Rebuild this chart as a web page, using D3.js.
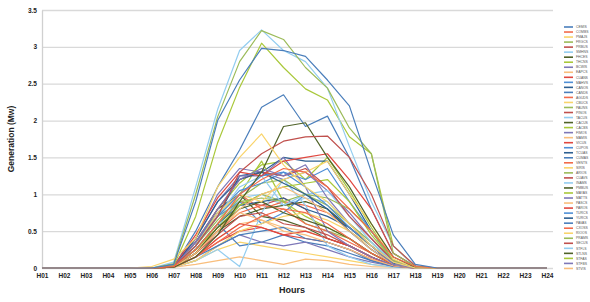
<!DOCTYPE html>
<html>
<head>
<meta charset="utf-8">
<script src="https://d3js.org/d3.v7.min.js"></script>
<style>
    body { margin: 0; background: #fff; }
    text { font-family: "Liberation Sans", Arial, sans-serif; }
</style>
</head>
<body>
<svg id="drawing_region"></svg>
<script>
const hours = ["H01","H02","H03","H04","H05","H06","H07","H08","H09","H10","H11","H12",
               "H13","H14","H15","H16","H17","H18","H19","H20","H21","H22","H23","H24"];

const y_ticks = [0, 0.5, 1, 1.5, 2, 2.5, 3, 3.5];

const plants = ["CEMIS","COMBS","PMAJS","FRGCS","PRBUS","SMHNS","FHCES","THCNS","BCWIS","EAPCS",
                "CUANS","MAHVS","CANOS","CANDS","AGUDS","CBUCS","PAUNS","PINOS","TACUS","CACUS",
                "CACBS","FIMOS","MAMIS","VICUS","CUPOS","TCUAS","CUMAS","VENTS","SIRIS","ARIOS",
                "CUAVS","INAMS","PMBUS","MAYAS","MATTS","PASCS","PAROS","TURCS","YURCS","PAVAS",
                "CXOSS","RIOOS","PRAMS","SECUS","STFLS","STLNS","STFAS","STFBS","STVIS"];

// generation per plant, H01..H24 (MW)
const generation = [
    [0,0,0,0,0,0,0.05,0.90,2.00,2.55,2.98,2.95,2.87,2.55,2.20,1.30,0.45,0.05,0,0,0,0,0,0],
    [0,0,0,0,0,0,0.02,0.25,0.60,1.00,1.20,1.35,1.30,1.10,0.80,0.50,0.15,0.02,0,0,0,0,0,0],
    [0,0,0,0,0,0.02,0.12,0.40,1.10,1.50,1.82,1.40,1.10,0.90,0.60,0.30,0.08,0,0,0,0,0,0,0],
    [0,0,0,0,0,0,0.06,1.00,2.05,2.80,3.22,3.10,2.72,2.44,1.90,1.55,0.20,0.02,0,0,0,0,0,0],
    [0,0,0,0,0,0,0.02,0.30,0.70,1.30,1.55,1.72,1.78,1.79,1.50,1.00,0.30,0.03,0,0,0,0,0,0],
    [0,0,0,0,0,0,0.08,1.10,2.15,2.95,3.23,2.95,2.80,2.44,1.65,0.90,0.30,0.02,0,0,0,0,0,0],
    [0,0,0,0,0,0,0.01,0.15,0.45,0.90,1.30,1.92,1.97,1.50,1.10,0.60,0.15,0.01,0,0,0,0,0,0],
    [0,0,0,0,0,0,0.03,0.70,1.70,2.45,3.05,2.72,2.43,2.28,1.78,1.55,0.30,0.02,0,0,0,0,0,0],
    [0,0,0,0,0,0,0.02,0.35,0.80,1.20,1.35,1.25,1.40,0.95,0.60,0.30,0.05,0,0,0,0,0,0,0],
    [0,0,0,0,0,0,0.01,0.20,0.50,0.80,1.00,1.10,0.95,0.75,0.50,0.25,0.05,0,0,0,0,0,0,0],
    [0,0,0,0,0,0,0.03,0.45,0.95,1.30,1.25,1.45,1.50,1.55,1.20,0.80,0.20,0.02,0,0,0,0,0,0],
    [0,0,0,0,0,0,0.02,0.30,0.70,1.00,1.25,1.30,1.10,0.85,0.55,0.30,0.08,0,0,0,0,0,0,0],
    [0,0,0,0,0,0,0.02,0.40,0.90,1.20,1.30,1.15,1.00,0.80,0.50,0.25,0.06,0,0,0,0,0,0,0],
    [0,0,0,0,0,0,0.02,0.50,1.10,1.60,2.18,2.35,1.92,2.06,1.50,0.80,0.20,0.02,0,0,0,0,0,0],
    [0,0,0,0,0,0,0.01,0.15,0.35,0.55,0.70,0.80,0.75,0.60,0.40,0.20,0.05,0,0,0,0,0,0,0],
    [0,0,0,0,0,0,0.02,0.30,0.75,1.00,0.90,1.20,1.30,1.45,1.00,0.60,0.12,0,0,0,0,0,0,0],
    [0,0,0,0,0,0,0.02,0.25,0.60,0.90,0.95,0.90,1.00,0.95,0.80,0.50,0.10,0,0,0,0,0,0,0],
    [0,0,0,0,0,0,0.03,0.35,0.80,1.20,1.30,1.25,1.35,1.10,0.70,0.40,0.10,0,0,0,0,0,0,0],
    [0,0,0,0,0,0,0.02,0.30,0.70,1.10,1.25,0.85,1.00,1.05,0.70,0.35,0.08,0,0,0,0,0,0,0],
    [0,0,0,0,0,0,0.01,0.20,0.55,0.80,0.90,0.75,0.65,0.55,0.40,0.20,0.05,0,0,0,0,0,0,0],
    [0,0,0,0,0,0,0.02,0.25,0.55,0.85,1.00,1.10,1.15,1.20,0.90,0.45,0.10,0,0,0,0,0,0,0],
    [0,0,0,0,0,0,0.02,0.40,0.90,1.25,1.25,1.50,1.10,0.50,0.30,0.15,0.04,0,0,0,0,0,0,0],
    [0,0,0,0,0,0,0.01,0.20,0.55,0.75,0.65,0.50,0.45,0.35,0.25,0.12,0.03,0,0,0,0,0,0,0],
    [0,0,0,0,0,0,0.01,0.15,0.40,0.60,0.55,0.45,0.50,0.40,0.30,0.15,0.03,0,0,0,0,0,0,0],
    [0,0,0,0,0,0,0.02,0.35,0.75,1.05,1.15,1.30,1.20,1.35,0.90,0.50,0.10,0,0,0,0,0,0,0],
    [0,0,0,0,0,0,0.01,0.25,0.60,0.85,0.90,0.95,0.80,0.70,0.55,0.30,0.06,0,0,0,0,0,0,0],
    [0,0,0,0,0,0,0.01,0.15,0.30,0.45,0.50,0.55,0.40,0.35,0.25,0.10,0.02,0,0,0,0,0,0,0],
    [0,0,0,0,0,0,0.01,0.20,0.50,0.75,0.85,0.80,0.60,0.50,0.35,0.20,0.04,0,0,0,0,0,0,0],
    [0,0,0,0,0,0,0.01,0.10,0.30,0.50,0.60,0.70,0.75,0.65,0.50,0.30,0.06,0,0,0,0,0,0,0],
    [0,0,0,0,0,0,0.02,0.30,0.65,0.95,1.15,1.20,1.00,0.85,0.60,0.35,0.08,0,0,0,0,0,0,0],
    [0,0,0,0,0,0,0.01,0.20,0.45,0.70,0.75,0.60,0.55,0.45,0.30,0.15,0.03,0,0,0,0,0,0,0],
    [0,0,0,0,0,0,0.01,0.10,0.25,0.02,0.75,1.20,0.85,0.30,0.15,0.05,0.01,0,0,0,0,0,0,0],
    [0,0,0,0,0,0,0.01,0.20,0.50,0.70,0.80,0.85,0.90,0.80,0.55,0.30,0.05,0,0,0,0,0,0,0],
    [0,0,0,0,0,0,0.02,0.30,0.70,1.00,1.45,0.90,0.70,0.55,0.40,0.20,0.04,0,0,0,0,0,0,0],
    [0,0,0,0,0,0,0.01,0.10,0.30,0.45,0.35,0.30,0.35,0.25,0.15,0.08,0.02,0,0,0,0,0,0,0],
    [0,0,0,0,0,0,0.01,0.05,0.10,0.15,0.10,0.05,0.12,0.10,0.05,0.02,0.01,0,0,0,0,0,0,0],
    [0,0,0,0,0,0,0.01,0.15,0.35,0.50,0.55,0.45,0.40,0.35,0.25,0.12,0.03,0,0,0,0,0,0,0],
    [0,0,0,0,0,0,0.02,0.35,0.70,0.90,0.60,0.75,1.00,0.80,0.50,0.25,0.05,0,0,0,0,0,0,0],
    [0,0,0,0,0,0,0.02,0.30,0.70,1.25,1.30,1.50,1.45,1.45,1.00,0.50,0.10,0,0,0,0,0,0,0],
    [0,0,0,0,0,0,0.02,0.25,0.60,0.30,0.35,0.45,0.35,0.30,0.20,0.10,0.02,0,0,0,0,0,0,0],
    [0,0,0,0,0,0,0.02,0.30,0.75,1.00,0.80,0.90,0.85,0.75,0.55,0.30,0.06,0,0,0,0,0,0,0],
    [0,0,0,0,0,0,0.01,0.10,0.25,0.35,0.30,0.25,0.20,0.15,0.10,0.05,0.01,0,0,0,0,0,0,0],
    [0,0,0,0,0,0,0.01,0.20,0.50,0.85,1.00,0.90,0.60,0.50,0.40,0.20,0.04,0,0,0,0,0,0,0],
    [0,0,0,0,0,0,0.01,0.25,0.60,0.90,0.85,0.95,0.80,0.40,0.30,0.15,0.03,0,0,0,0,0,0,0],
    [0,0,0,0,0,0,0.01,0.20,0.55,0.95,1.00,0.85,0.95,0.90,0.60,0.35,0.06,0,0,0,0,0,0,0],
    [0,0,0,0,0,0,0.02,0.35,0.80,1.00,0.70,0.65,0.55,0.40,0.30,0.15,0.03,0,0,0,0,0,0,0],
    [0,0,0,0,0,0,0.02,0.30,0.80,1.15,1.40,1.45,1.20,1.50,1.05,0.55,0.10,0,0,0,0,0,0,0],
    [0,0,0,0,0,0,0.03,0.40,1.00,1.35,1.30,1.20,1.30,1.05,0.75,0.40,0.08,0,0,0,0,0,0,0],
    [0,0,0,0,0,0,0.01,0.15,0.40,0.60,0.65,0.55,0.50,0.40,0.30,0.15,0.03,0,0,0,0,0,0,0]
];

// colour cycle used by the sheet
const palette = ["#4A7EBB","#F26B4B","#F9D46B","#9BBB59","#C0504D","#93CDF0","#4F6228",
                 "#A9C83A","#7E78B8","#F9BE7C","#E0473F","#4F8FD6","#2D5F91"];

class LineChart {

    constructor(config) {
        this.config = {
            parent: config.parent,
            width: config.width || 590,
            height: config.height || 302,
            margin: config.margin || { top: 10, right: 10, bottom: 10, left: 10 }
        }
        this.init();
    }

    init() {
        let self = this;

        self.svg = d3.select(self.config.parent)
            .attr('width', self.config.width)
            .attr('height', self.config.height);

        self.chart = self.svg.append('g')
            .attr('transform', `translate(${self.config.margin.left}, ${self.config.margin.top})`);

        self.inner_width = self.config.width - self.config.margin.left - self.config.margin.right;
        self.inner_height = self.config.height - self.config.margin.top - self.config.margin.bottom;

        self.xscale = d3.scalePoint()
            .domain(hours)
            .range([0, self.inner_width - 6]);

        self.yscale = d3.scaleLinear()
            .domain([0, 3.5])
            .range([self.inner_height, 0]);

        self.color = d3.scaleOrdinal()
            .domain(plants)
            .range(palette);

        self.grid_group = self.chart.append('g');
        self.yaxis_group = self.chart.append('g');
        self.xaxis_group = self.chart.append('g')
            .attr('transform', `translate(0, ${self.inner_height})`);
        self.lines_group = self.chart.append('g');
        self.legend_group = self.svg.append('g')
            .attr('transform', 'translate(564, 27)');

        self.svg.append('text')
            .attr('transform', `translate(14, ${self.config.margin.top + self.inner_height / 2}) rotate(-90)`)
            .attr('text-anchor', 'middle')
            .attr('font-size', '8.5px')
            .attr('font-weight', 'bold')
            .attr('fill', '#222')
            .text('Generation (Mw)');

        self.svg.append('text')
            .attr('x', 292)
            .attr('y', 293)
            .attr('text-anchor', 'middle')
            .attr('font-size', '9px')
            .attr('font-weight', 'bold')
            .attr('fill', '#222')
            .text('Hours');
    }

    render() {
        let self = this;

        // horizontal gridlines
        self.grid_group
            .call(d3.axisLeft(self.yscale).tickValues(y_ticks).tickSize(-self.inner_width).tickFormat(''))
            .call(g => g.select('.domain').remove())
            .call(g => g.selectAll('line').attr('stroke', '#D9D9D9').attr('stroke-width', 1.3));

        self.yaxis_group
            .call(d3.axisLeft(self.yscale).tickValues(y_ticks).tickSize(0).tickPadding(5).tickFormat(d3.format('')))
            .call(g => g.select('.domain').attr('stroke', '#D0D0D0').attr('stroke-width', 1.3))
            .call(g => g.selectAll('text')
                .attr('font-size', '6.5px').attr('font-weight', 'bold').attr('fill', '#222')
                .attr('font-family', '"Liberation Sans", Arial, sans-serif'));

        self.xaxis_group
            .call(d3.axisBottom(self.xscale).tickSize(0).tickPadding(5))
            .call(g => g.select('.domain').remove())
            .call(g => g.selectAll('text')
                .attr('font-size', '6.5px').attr('font-weight', 'bold').attr('fill', '#222')
                .attr('font-family', '"Liberation Sans", Arial, sans-serif'));

        const line = d3.line()
            .x((d, i) => self.xscale(hours[i]))
            .y(d => self.yscale(d));

        const series = plants.map((name, i) => ({ name: name, values: generation[i] }));

        self.lines_group.selectAll('path')
            .data(series.slice().reverse())
            .enter()
            .append('path')
            .attr('d', d => line(d.values))
            .attr('fill', 'none')
            .attr('stroke', d => self.color(d.name))
            .attr('stroke-width', 1.2)
            .attr('stroke-linejoin', 'round');

        const items = self.legend_group.selectAll('g')
            .data(plants)
            .enter()
            .append('g')
            .attr('transform', (d, i) => `translate(0, ${i * 5.03})`);

        items.append('line')
            .attr('x1', 0)
            .attr('x2', 9)
            .attr('stroke', d => self.color(d))
            .attr('stroke-width', 1.6);

        items.append('text')
            .attr('x', 12)
            .attr('dy', '0.35em')
            .attr('font-size', '3.4px')
            .attr('fill', '#555')
            .text(d => d);
    }
}

const chart = new LineChart({
    parent: '#drawing_region',
    width: 590,
    height: 302,
    margin: { top: 10, right: 37, bottom: 34, left: 42 }
});
chart.render();
</script>
</body>
</html>
